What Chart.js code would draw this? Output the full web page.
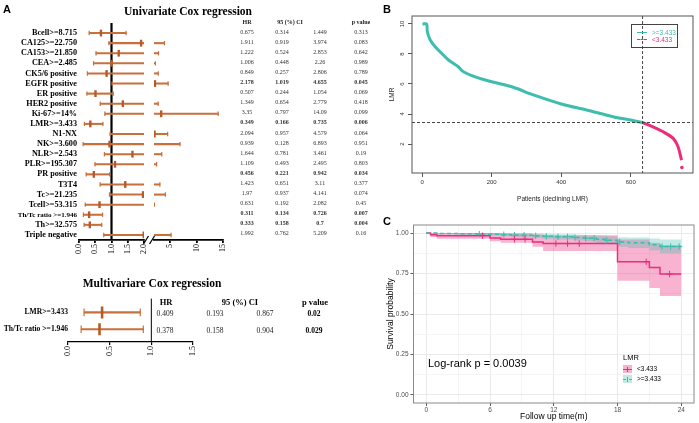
<!DOCTYPE html>
<html>
<head>
<meta charset="utf-8">
<title>Cox regression and LMR survival</title>
<script src="https://cdn.jsdelivr.net/npm/chart.js@4.4.1/dist/chart.umd.min.js"></script>
<style>
    html, body { margin: 0; padding: 0; background: #ffffff; }
    #page { position: relative; width: 699px; height: 423px; overflow: hidden; }
    #page canvas { position: absolute; }
    .txt { position: absolute; white-space: nowrap; line-height: 1; }
</style>
</head>
<body>
<div id="page">
    <canvas id="uni-left" width="160" height="260" style="left:0;top:0"></canvas>
    <canvas id="uni-right" width="93" height="260" style="left:146px;top:0"></canvas>
    <canvas id="multi-chart" width="207" height="72" style="left:0;top:290px"></canvas>
    <canvas id="lmr-chart" width="319" height="205" style="left:380px;top:0"></canvas>
    <canvas id="km-chart" width="319" height="218" style="left:380px;top:205px"></canvas>
</div>
<script>
// Univariate Cox regression
const uniLabels = ['Bcell>=8.715', 'CA125>=22.750', 'CA153>=21.850', 'CEA>=2.485', 'CK5/6 positive',
    'EGFR positive', 'ER positive', 'HER2 positive', 'Ki-67>=14%', 'LMR>=3.433', 'N1-NX', 'NK>=3.600',
    'NLR>=2.543', 'PLR>=195.307', 'PR positive', 'T3T4', 'Tc>=21.235', 'Tcell>=53.315',
    'Th/Tc ratio >=1.946', 'Th>=32.575', 'Triple negative'];
const uniHR = [0.675, 1.911, 1.222, 1.006, 0.849, 2.178, 0.507, 1.349, 3.35, 0.349, 2.094, 0.939,
    1.644, 1.109, 0.456, 1.423, 1.97, 0.631, 0.311, 0.333, 1.992];
const uniLower = [0.314, 0.919, 0.524, 0.448, 0.257, 1.019, 0.244, 0.654, 0.797, 0.166, 0.957, 0.128,
    0.781, 0.493, 0.221, 0.651, 0.937, 0.192, 0.134, 0.158, 0.762];
const uniUpper = [1.449, 3.974, 2.853, 2.26, 2.806, 4.655, 1.054, 2.779, 14.09, 0.735, 4.579, 6.893,
    3.461, 2.495, 0.942, 3.11, 4.141, 2.082, 0.726, 0.7, 5.209];
const uniP = [0.313, 0.083, 0.642, 0.989, 0.789, 0.045, 0.069, 0.418, 0.099, 0.006, 0.064, 0.951,
    0.19, 0.803, 0.034, 0.377, 0.074, 0.45, 0.007, 0.004, 0.16];
const uniTicksLow = [0, 0.5, 1, 1.5, 2];
const uniTicksHigh = [5, 10, 15];

// Multivariate Cox regression
const multiLabels = ['LMR>=3.433', 'Th/Tc ratio >=1.946'];
const multiHR = [0.409, 0.378];
const multiLower = [0.193, 0.158];
const multiUpper = [0.867, 0.904];
const multiP = [0.02, 0.029];
const multiTicks = [0, 0.5, 1, 1.5];

// LMR ranking (B)
const lmrRankHigh = [1, 13, 15, 23, 37, 56, 76, 104, 119, 157, 200, 262, 320, 400, 473, 549, 599, 634];
const lmrValueHigh = [10, 10, 9.5, 8.95, 8.5, 8.05, 7.6, 7.15, 6.82, 6.44, 6.15, 5.78, 5.27, 4.67, 4.27, 3.82, 3.6, 3.43];
const lmrRankLow = [634, 664, 693, 722, 736, 746];
const lmrValueLow = [3.43, 3.15, 2.82, 2.38, 1.82, 0.93];
const lmrRankOutlier = [747];
const lmrValueOutlier = [0.44];
const lmrCutoff = 3.433;
const lmrCutoffRank = 634;
const lmrXTicks = [0, 200, 400, 600];
const lmrYTicks = [2, 4, 6, 8, 10];

// Kaplan-Meier (C)
const kmMonthTicks = [0, 6, 12, 18, 24];
const kmSurvTicks = [0, 0.25, 0.5, 0.75, 1];
const kmLowTime = [0, 0.4, 1, 6, 7, 10, 11, 18, 21, 22, 24];
const kmLowSurv = [1, 0.99, 0.984, 0.97, 0.962, 0.945, 0.935, 0.823, 0.787, 0.747, 0.747];
const kmLowUpper = [1, 1, 1, 1, 0.998, 0.992, 0.986, 0.96, 0.94, 0.925, 0.925];
const kmLowLower = [1, 0.975, 0.965, 0.95, 0.94, 0.915, 0.89, 0.706, 0.66, 0.612, 0.612];
const kmLowCensorTime = [5.3, 8.3, 9.3, 12.2, 13.3, 14.4, 20.7, 22.9];
const kmLowCensorSurv = [0.984, 0.962, 0.962, 0.935, 0.935, 0.935, 0.823, 0.747];
const kmHighTime = [0, 1, 3, 5, 7, 8, 10, 11, 12, 14, 15, 16, 17, 18, 19, 21, 22, 24];
const kmHighSurv = [1, 0.998, 0.996, 0.993, 0.99, 0.987, 0.983, 0.98, 0.977, 0.972, 0.968, 0.962, 0.955, 0.945, 0.94, 0.928, 0.917, 0.917];
const kmHighUpper = [1, 1, 1, 1, 1, 0.999, 0.997, 0.995, 0.993, 0.99, 0.987, 0.983, 0.979, 0.975, 0.972, 0.966, 0.96, 0.96];
const kmHighLower = [1, 0.994, 0.99, 0.985, 0.98, 0.975, 0.969, 0.965, 0.961, 0.954, 0.949, 0.941, 0.931, 0.916, 0.908, 0.893, 0.876, 0.876];
const kmHighCensorTime = [5, 7.3, 8.3, 9.2, 10.3, 11.3, 12.4, 13.3, 14, 15, 15.8, 17, 18.2, 22.2, 23, 23.8];
const kmHighCensorSurv = [0.993, 0.99, 0.987, 0.987, 0.983, 0.98, 0.977, 0.977, 0.972, 0.968, 0.968, 0.955, 0.945, 0.917, 0.917, 0.917];

const ORANGE = '#c8703c';
const ORANGE_DARK = '#b65a28';
const TEAL = '#3dbdae';
const PINK = '#ec2d7e';
const SERIF = "'Liberation Serif', 'Times New Roman', serif";
const SANS = "'Liberation Sans', Arial, sans-serif";

Chart.defaults.font.family = SANS;
Chart.defaults.animation = false;
Chart.defaults.responsive = false;
Chart.defaults.plugins.legend.display = false;
Chart.defaults.plugins.tooltip.enabled = false;

const page = document.getElementById('page');

function addText(text, x, y, style, align) {
    const el = document.createElement('div');
    el.className = 'txt';
    el.textContent = text;
    Object.assign(el.style, style);
    el.style.left = x + 'px';
    el.style.top = y + 'px';
    const shift = align === 'left' ? '0' : (align === 'right' ? '-100%' : '-50%');
    el.style.transform = 'translate(' + shift + ', -50%)';
    page.appendChild(el);
    return el;
}

function addBox(x, y, w, h, style) {
    const el = document.createElement('div');
    el.style.position = 'absolute';
    el.style.left = x + 'px';
    el.style.top = y + 'px';
    el.style.width = w + 'px';
    el.style.height = h + 'px';
    Object.assign(el.style, style);
    page.appendChild(el);
    return el;
}

// reference line at HR = 1 and the axis break mark
const forestDeco = {
    id: 'forestDeco',
    beforeDatasetsDraw(chart, args, opts) {
        const { ctx, chartArea, scales: { x } } = chart;
        if (opts.refValue < x.min || opts.refValue > x.max) return;
        const px = x.getPixelForValue(opts.refValue);
        ctx.save();
        ctx.strokeStyle = '#000';
        ctx.lineWidth = opts.refWidth;
        ctx.beginPath();
        ctx.moveTo(px, chartArea.top - opts.refExtend);
        ctx.lineTo(px, chartArea.bottom);
        ctx.stroke();
        ctx.restore();
    },
    afterDraw(chart, args, opts) {
        if (!opts.breakAt) return;
        const { ctx, chartArea } = chart;
        const bx = opts.breakAt === 'right' ? chartArea.right + 2 : chartArea.left - 2;
        const by = chartArea.bottom;
        ctx.save();
        ctx.strokeStyle = '#000';
        ctx.lineWidth = 1.3;
        ctx.beginPath();
        ctx.moveTo(bx - 2.5, by + 4);
        ctx.lineTo(bx + 2.5, by - 4);
        ctx.stroke();
        ctx.restore();
    }
};

const frame = {
    id: 'frame',
    afterDraw(chart, args, opts) {
        const { ctx, chartArea: a } = chart;
        ctx.save();
        ctx.strokeStyle = opts.color;
        ctx.lineWidth = opts.width;
        ctx.strokeRect(a.left, a.top, a.right - a.left, a.bottom - a.top);
        ctx.restore();
    }
};

const cutoffLines = {
    id: 'cutoffLines',
    afterDatasetsDraw(chart, args, opts) {
        const { ctx, chartArea: a, scales: { x, y } } = chart;
        const px = x.getPixelForValue(opts.xValue);
        const py = y.getPixelForValue(opts.yValue);
        ctx.save();
        ctx.setLineDash([3, 2]);
        ctx.strokeStyle = '#444';
        ctx.lineWidth = 1;
        ctx.beginPath();
        ctx.moveTo(a.left, py);
        ctx.lineTo(a.right, py);
        ctx.moveTo(px, a.top);
        ctx.lineTo(px, a.bottom);
        ctx.stroke();
        ctx.restore();
    }
};

function forestChart(canvasId, f) {
    const rows = f.labels.map((_, i) => i);
    const inRange = v => v >= f.xMin && v <= f.xMax;
    const pick = (values) => rows.filter(i => inRange(values[i])).map(i => ({ x: values[i], y: i }));
    const capStyle = {
        type: 'line', showLine: false, pointStyle: 'line', rotation: 90,
        pointRadius: f.capRadius, pointBorderWidth: f.capWidth,
        pointBorderColor: ORANGE, pointBackgroundColor: ORANGE
    };

    return new Chart(document.getElementById(canvasId), {
        type: 'bar',
        data: {
            datasets: [
                {
                    type: 'line', data: pick(f.hr), showLine: false, pointStyle: 'line', rotation: 90,
                    pointRadius: f.hrRadius, pointBorderWidth: f.hrWidth,
                    pointBorderColor: ORANGE_DARK, pointBackgroundColor: ORANGE_DARK
                },
                Object.assign({ data: pick(f.lower) }, capStyle),
                Object.assign({ data: pick(f.upper) }, capStyle),
                {
                    type: 'bar',
                    data: rows.map(i => ({ y: i, x: [f.lower[i], f.upper[i]] })),
                    backgroundColor: ORANGE,
                    barThickness: f.barWidth,
                    borderWidth: 0,
                    clip: 0
                }
            ]
        },
        options: {
            indexAxis: 'y',
            layout: { padding: f.padding },
            plugins: {
                forestDeco: { refValue: 1, refWidth: f.refWidth, refExtend: f.refExtend, breakAt: f.breakAt }
            },
            scales: {
                x: {
                    type: 'linear', min: f.xMin, max: f.xMax, beginAtZero: false,
                    afterBuildTicks: s => { s.ticks = f.ticks.map(v => ({ value: v })); },
                    afterFit: s => { s.height = 20; },
                    ticks: {
                        autoSkip: false, minRotation: 90, maxRotation: 90, padding: 1,
                        color: '#000', font: { family: SERIF, size: 8 },
                        callback: f.tickFormat
                    },
                    grid: { drawOnChartArea: false, drawTicks: true, tickLength: 3, color: '#000', lineWidth: f.axisWidth },
                    border: { display: true, color: '#000', width: f.axisWidth }
                },
                y: {
                    type: 'linear', reverse: true, min: f.yMin, max: f.yMax, offset: false,
                    display: f.showLabels,
                    afterBuildTicks: s => { s.ticks = rows.map(v => ({ value: v })); },
                    afterFit: s => { s.width = f.showLabels ? f.labelWidth : 0; },
                    ticks: {
                        autoSkip: false, padding: f.labelPad, color: '#000',
                        font: c => ({
                            family: SERIF, weight: 'bold',
                            size: f.labels[c.index] && f.labels[c.index].length > f.longLabel ? f.longLabelSize : f.labelSize
                        }),
                        callback: v => f.labels[v]
                    },
                    grid: { display: false, drawTicks: false, offset: false },
                    border: { display: false }
                }
            }
        },
        plugins: [forestDeco]
    });
}

const uniCommon = {
    labels: uniLabels, hr: uniHR, lower: uniLower, upper: uniUpper,
    yMin: -0.5, yMax: 20.5, labelSize: 8.2, longLabel: 16, longLabelSize: 7, labelWidth: 79, labelPad: 2,
    capRadius: 2.2, capWidth: 1.2, hrRadius: 3.4, hrWidth: 2.4, barWidth: 1.4,
    refWidth: 2.2, refExtend: 5, axisWidth: 1.8
};

const uniLeft = forestChart('uni-left', Object.assign({}, uniCommon, {
    xMin: 0, xMax: 2, ticks: uniTicksLow, tickFormat: v => v.toFixed(1),
    showLabels: true, breakAt: 'right',
    padding: { top: 28, right: 16, left: 0, bottom: 0 }
}));

forestChart('uni-right', Object.assign({}, uniCommon, {
    xMin: 2, xMax: 15, ticks: uniTicksHigh, tickFormat: v => String(v),
    showLabels: false, breakAt: 'left',
    padding: { top: 28, right: 16, left: 8, bottom: 0 }
}));

const multi = forestChart('multi-chart', {
    labels: multiLabels, hr: multiHR, lower: multiLower, upper: multiUpper,
    xMin: 0, xMax: 1.5, ticks: multiTicks, tickFormat: v => v.toFixed(1),
    yMin: -0.82, yMax: 1.76, labelSize: 7.6, longLabel: 30, longLabelSize: 7.6, labelWidth: 68, labelPad: 0,
    showLabels: true,
    capRadius: 3.8, capWidth: 1.2, hrRadius: 6, hrWidth: 2.6, barWidth: 1.5,
    refWidth: 1, refExtend: 0, axisWidth: 1.2, breakAt: null,
    padding: { top: 8, right: 14, left: 0, bottom: 0 }
});

// panel titles and letters
const letterStyle = { fontFamily: SANS, fontWeight: 'bold', fontSize: '11px', color: '#000' };
addText('A', 3, 9, letterStyle, 'left');
addText('B', 383, 9, letterStyle, 'left');
addText('C', 383, 221, letterStyle, 'left');
const titleStyle = { fontFamily: SERIF, fontWeight: 'bold', fontSize: '11.5px', color: '#000' };
addText('Univariate Cox regression', 188, 12, titleStyle);
addText('Multivariare Cox regression', 152, 284, titleStyle);

// univariate table
const uniHead = { fontFamily: SERIF, fontWeight: 'bold', fontSize: '6px', color: '#222' };
addText('HR', 247, 22, uniHead);
addText('95 (%) CI', 290, 22, uniHead);
addText('p value', 361, 22, uniHead);
uniLabels.forEach((_, i) => {
    const y = uniLeft.scales.y.getPixelForValue(i) - 1.5;
    const st = {
        fontFamily: SERIF, fontSize: '6px', color: '#333',
        fontWeight: uniP[i] < 0.05 ? 'bold' : 'normal'
    };
    addText(String(uniHR[i]), 247, y, st);
    addText(String(uniLower[i]), 282, y, st);
    addText(String(uniUpper[i]), 320, y, st);
    addText(String(uniP[i]), 361, y, st);
});

// multivariate table
const multiHead = { fontFamily: SERIF, fontWeight: 'bold', fontSize: '8.5px', color: '#000' };
addText('HR', 166, 302, multiHead);
addText('95 (%) CI', 240, 302, multiHead);
addText('p value', 315, 302, multiHead);
multiLabels.forEach((_, i) => {
    const y = 290 + multi.scales.y.getPixelForValue(i) + 2;
    const st = { fontFamily: SERIF, fontSize: '7.5px', color: '#222' };
    addText(String(multiHR[i]), 165, y, st);
    addText(String(multiLower[i]), 215, y, st);
    addText(String(multiUpper[i]), 265, y, st);
    addText(String(multiP[i]), 314, y, Object.assign({}, st, { fontWeight: multiP[i] < 0.05 ? 'bold' : 'normal', color: '#000' }));
});

// B: LMR per patient
new Chart(document.getElementById('lmr-chart'), {
    type: 'line',
    data: {
        datasets: [
            {
                label: '>=3.433',
                data: lmrRankHigh.map((r, i) => ({ x: r, y: lmrValueHigh[i] })),
                borderColor: TEAL, borderWidth: 3, pointRadius: 0, tension: 0.3
            },
            {
                label: '<3.433',
                data: lmrRankLow.map((r, i) => ({ x: r, y: lmrValueLow[i] })),
                borderColor: PINK, borderWidth: 3, pointRadius: 0, tension: 0.3
            },
            {
                label: '<3.433',
                data: lmrRankOutlier.map((r, i) => ({ x: r, y: lmrValueOutlier[i] })),
                showLine: false, pointRadius: 1.8, pointBorderWidth: 0,
                pointBackgroundColor: PINK, borderColor: PINK
            }
        ]
    },
    options: {
        layout: { padding: { top: 16, right: 6, left: 0, bottom: 0 } },
        plugins: {
            frame: { color: '#555', width: 1 },
            cutoffLines: { xValue: lmrCutoffRank, yValue: lmrCutoff }
        },
        scales: {
            x: {
                type: 'linear', min: -29, max: 779,
                afterBuildTicks: s => { s.ticks = lmrXTicks.map(v => ({ value: v })); },
                afterFit: s => { s.height = 32; },
                ticks: { padding: 2, color: '#333', font: { size: 6 } },
                grid: { drawOnChartArea: false, drawTicks: true, tickLength: 4, color: '#555' },
                border: { display: false },
                title: { display: true, text: 'Patients (declining LMR)', color: '#222', font: { size: 6.5 }, padding: { top: 0, bottom: 2 } }
            },
            y: {
                type: 'linear', min: 0.07, max: 10.53,
                afterBuildTicks: s => { s.ticks = lmrYTicks.map(v => ({ value: v })); },
                afterFit: s => { s.width = 32; },
                ticks: { minRotation: 90, maxRotation: 90, crossAlign: 'center', padding: 2, color: '#333', font: { size: 6 } },
                grid: { drawOnChartArea: false, drawTicks: true, tickLength: 4, color: '#555' },
                border: { display: false },
                title: { display: true, text: 'LMR', color: '#222', font: { size: 6.5 }, padding: { top: 8, bottom: 0 } }
            }
        }
    },
    plugins: [frame, cutoffLines]
});

// B legend
addBox(631, 24, 45, 22, { border: '1px solid #444' });
addBox(637, 32, 10, 0, { borderTop: '1.3px solid ' + TEAL });
addBox(637, 39, 10, 0, { borderTop: '1.3px dashed ' + PINK });
const legB = { fontFamily: SANS, fontSize: '6.5px' };
addText('>=3.433', 652, 32.5, Object.assign({ color: TEAL }, legB), 'left');
addText('<3.433', 652, 39.5, Object.assign({ color: PINK }, legB), 'left');

// C: Kaplan-Meier
const kmMinorMonths = kmMonthTicks.slice(0, -1).map((v, i) => (v + kmMonthTicks[i + 1]) / 2);
const kmMinorSurv = kmSurvTicks.slice(0, -1).map((v, i) => (v + kmSurvTicks[i + 1]) / 2);
const isMajor = (list, v) => list.some(t => Math.abs(t - v) < 1e-9);
const toPts = (xs, ys) => xs.map((x, i) => ({ x: x, y: ys[i] }));

new Chart(document.getElementById('km-chart'), {
    type: 'line',
    data: {
        datasets: [
            {
                data: toPts(kmLowCensorTime, kmLowCensorSurv), showLine: false,
                pointStyle: 'cross', pointRadius: 3.2, pointBorderWidth: 1, pointBorderColor: PINK
            },
            {
                data: toPts(kmHighCensorTime, kmHighCensorSurv), showLine: false,
                pointStyle: 'cross', pointRadius: 3.2, pointBorderWidth: 1, pointBorderColor: TEAL
            },
            {
                label: '>=3.433', data: toPts(kmHighTime, kmHighSurv), stepped: true,
                borderColor: TEAL, borderWidth: 1.5, borderDash: [4, 3], pointRadius: 0
            },
            {
                label: '<3.433', data: toPts(kmLowTime, kmLowSurv), stepped: true,
                borderColor: PINK, borderWidth: 1.5, pointRadius: 0
            },
            {
                data: toPts(kmHighTime, kmHighUpper), stepped: true, borderWidth: 0, pointRadius: 0,
                fill: '+1', backgroundColor: 'rgba(61, 189, 174, 0.32)'
            },
            {
                data: toPts(kmHighTime, kmHighLower), stepped: true, borderWidth: 0, pointRadius: 0, fill: false
            },
            {
                data: toPts(kmLowTime, kmLowUpper), stepped: true, borderWidth: 0, pointRadius: 0,
                fill: '+1', backgroundColor: 'rgba(236, 45, 126, 0.36)'
            },
            {
                data: toPts(kmLowTime, kmLowLower), stepped: true, borderWidth: 0, pointRadius: 0, fill: false
            }
        ]
    },
    options: {
        layout: { padding: { top: 20, right: 3, left: 0, bottom: 0 } },
        plugins: {
            frame: { color: '#8a8a8a', width: 1 }
        },
        scales: {
            x: {
                type: 'linear', min: -1.2, max: 25.2,
                afterBuildTicks: s => {
                    s.ticks = kmMonthTicks.concat(kmMinorMonths).sort((a, b) => a - b).map(v => ({ value: v }));
                },
                afterFit: s => { s.height = 20; },
                ticks: {
                    autoSkip: false, maxRotation: 0, padding: 0, color: '#4d4d4d', font: { size: 6.5 },
                    callback: v => isMajor(kmMonthTicks, v) ? String(v) : ''
                },
                grid: {
                    drawTicks: true, tickLength: 3,
                    color: c => isMajor(kmMonthTicks, c.tick.value) ? '#e4e4e4' : '#f2f2f2',
                    tickColor: c => isMajor(kmMonthTicks, c.tick.value) ? '#333' : 'rgba(0,0,0,0)',
                    lineWidth: 0.8
                },
                border: { display: false },
                title: { display: true, text: 'Follow up time(m)', color: '#000', font: { size: 8.5 }, padding: { top: 0, bottom: 1 } }
            },
            y: {
                type: 'linear', min: -0.05, max: 1.05,
                afterBuildTicks: s => {
                    s.ticks = kmSurvTicks.concat(kmMinorSurv).sort((a, b) => a - b).map(v => ({ value: v }));
                },
                afterFit: s => { s.width = 33.5; },
                ticks: {
                    autoSkip: false, padding: 2, color: '#4d4d4d', font: { size: 6.5 },
                    callback: v => isMajor(kmSurvTicks, v) ? v.toFixed(2) : ''
                },
                grid: {
                    drawTicks: true, tickLength: 3,
                    color: c => isMajor(kmSurvTicks, c.tick.value) ? '#e4e4e4' : '#f2f2f2',
                    tickColor: c => isMajor(kmSurvTicks, c.tick.value) ? '#333' : 'rgba(0,0,0,0)',
                    lineWidth: 0.8
                },
                border: { display: false },
                title: { display: true, text: 'Survival probability', color: '#000', font: { size: 8.5 }, padding: { top: 6, bottom: 0 } }
            }
        }
    },
    plugins: [frame]
});

// C annotations and legend
addText('Log-rank p = 0.0039', 428, 363, { fontFamily: SANS, fontSize: '11px', color: '#000' }, 'left');
addText('LMR', 623, 357.5, { fontFamily: SANS, fontSize: '7.5px', color: '#000' }, 'left');
function kmKey(y, fill, line, dashed) {
    addBox(623, y, 9, 8, { background: fill });
    addBox(623, y + 3.5, 9, 0, { borderTop: '1.3px ' + (dashed ? 'dashed ' : 'solid ') + line });
    addBox(627, y + 1.5, 0, 5, { borderLeft: '1px solid ' + line });
}
kmKey(365, 'rgba(236, 45, 126, 0.36)', PINK, false);
kmKey(375, 'rgba(61, 189, 174, 0.32)', TEAL, true);
const legC = { fontFamily: SANS, fontSize: '6.5px', color: '#000' };
addText('<3.433', 637, 369, legC, 'left');
addText('>=3.433', 637, 379, legC, 'left');
</script>
</body>
</html>
